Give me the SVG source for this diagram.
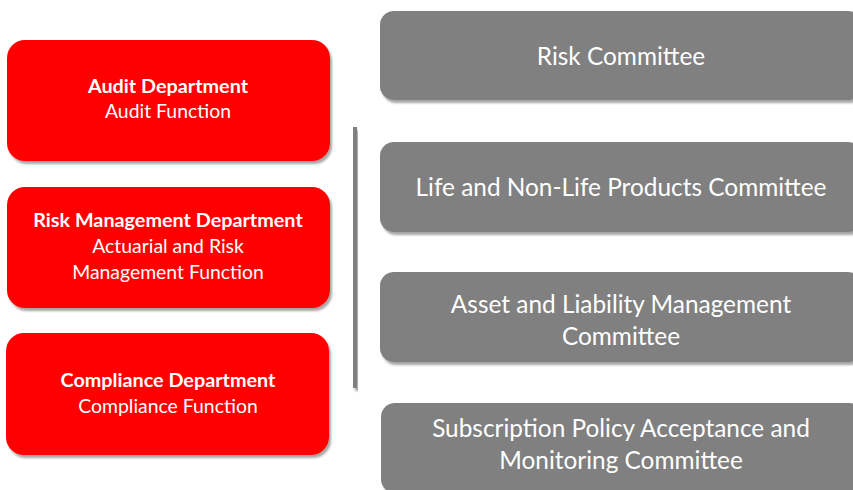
<svg xmlns="http://www.w3.org/2000/svg" width="853" height="490" viewBox="0 0 853 490">
<defs>
<filter id="sh" x="-5%" y="-5%" width="115%" height="120%">
<feDropShadow dx="2" dy="3" stdDeviation="1" flood-color="#000" flood-opacity="0.35"/>
</filter>
<style>
.red{fill:#ff0000;filter:url(#sh)}
.gray{fill:#808080;filter:url(#sh)}
.t{font-family:Lato,"Liberation Sans",sans-serif;fill:#fff;text-anchor:middle}
.rt{font-size:19.4px}
.rb{font-size:19.8px;font-weight:bold}
.gt{font-size:24.4px}
</style>
</defs>
<g id="connectors">
<rect x="353" y="127" width="4" height="261" fill="#808080" filter="url(#sh)"/>
</g>
<g id="audit">
<rect class="red" x="7" y="40" width="323" height="121" rx="18"/>
<text class="t rb" x="168" y="93">Audit Department</text>
<text class="t rt" x="168" y="118">Audit Function</text>
</g>
<g id="riskmgmt">
<rect class="red" x="7" y="187" width="323" height="121" rx="18"/>
<text class="t rb" x="168" y="227">Risk Management Department</text>
<text class="t rt" x="168" y="253">Actuarial and Risk</text>
<text class="t rt" x="168" y="279">Management Function</text>
</g>
<g id="compliance">
<rect class="red" x="6" y="333" width="323" height="122" rx="18"/>
<text class="t rb" x="168" y="387">Compliance Department</text>
<text class="t rt" x="168" y="413">Compliance Function</text>
</g>
<g id="riskcommittee">
<rect class="gray" x="380" y="11" width="482" height="89" rx="14"/>
<text class="t gt" x="621" y="65">Risk Committee</text>
</g>
<g id="products">
<rect class="gray" x="380" y="142" width="482" height="90" rx="14"/>
<text class="t gt" x="621" y="196">Life and Non-Life Products Committee</text>
</g>
<g id="alm">
<rect class="gray" x="380" y="272" width="482" height="90" rx="14"/>
<text class="t gt" x="621" y="313">Asset and Liability Management</text>
<text class="t gt" x="621" y="345">Committee</text>
</g>
<g id="subscription">
<rect class="gray" x="381" y="403" width="482" height="90" rx="14"/>
<text class="t gt" x="621" y="437">Subscription Policy Acceptance and</text>
<text class="t gt" x="621" y="469">Monitoring Committee</text>
</g>
</svg>
